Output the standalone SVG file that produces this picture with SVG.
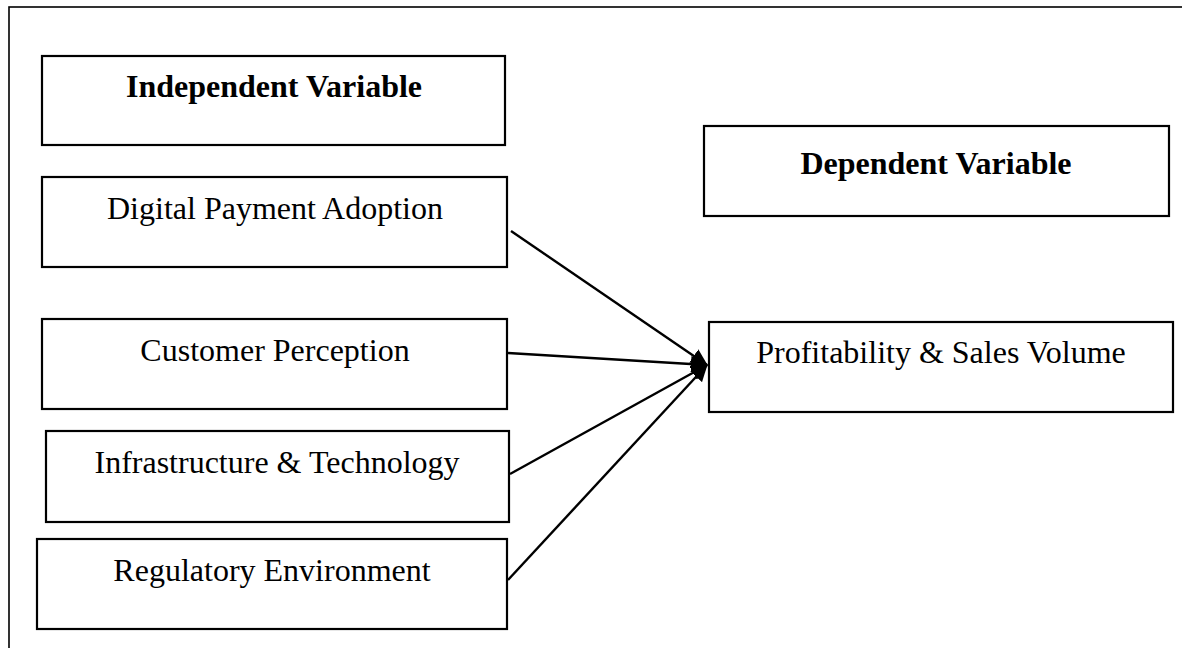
<svg xmlns="http://www.w3.org/2000/svg" width="1182" height="648" viewBox="0 0 1182 648">
  <style>
    .frame { fill: none; stroke: #000; stroke-width: 1.6; }
    .box { fill: #fff; stroke: #000; stroke-width: 2.2; }
    .lbl { font-family: "Liberation Serif", "Times New Roman", serif; font-size: 32px; fill: #000; text-anchor: middle; }
    .hdr { font-weight: bold; }
    .link { stroke: #000; stroke-width: 2.4; fill: none; marker-end: url(#head); }
  </style>
  <defs>
    <marker id="head" markerUnits="userSpaceOnUse" markerWidth="17" markerHeight="16" refX="16" refY="8" orient="auto">
      <path d="M0,0 L17,8 L0,16 Z" fill="#000"/>
    </marker>
  </defs>

  <rect width="1182" height="648" fill="#fff"/>
  <!-- outer frame, runs past the right and bottom edges -->
  <rect class="frame" x="9" y="7" width="1200" height="700"/>

  <g id="connectors">
    <line class="link" x1="511" y1="231" x2="707" y2="365"/>
    <line class="link" x1="508" y1="353" x2="707" y2="365"/>
    <line class="link" x1="510" y1="474" x2="707" y2="365"/>
    <line class="link" x1="508" y1="580" x2="707" y2="365"/>
  </g>

  <g id="independent-header">
    <rect class="box" x="42" y="56" width="463" height="89"/>
    <text class="lbl hdr" x="274" y="97">Independent Variable</text>
  </g>
  <g id="digital-payment">
    <rect class="box" x="42" y="177" width="465" height="90"/>
    <text class="lbl" x="275" y="219">Digital Payment Adoption</text>
  </g>
  <g id="customer-perception">
    <rect class="box" x="42" y="319" width="465" height="90"/>
    <text class="lbl" x="275" y="361">Customer Perception</text>
  </g>
  <g id="infrastructure">
    <rect class="box" x="46" y="431" width="463" height="91"/>
    <text class="lbl" x="277" y="473">Infrastructure &amp; Technology</text>
  </g>
  <g id="regulatory">
    <rect class="box" x="37" y="539" width="470" height="90"/>
    <text class="lbl" x="272" y="581">Regulatory Environment</text>
  </g>
  <g id="dependent-header">
    <rect class="box" x="704" y="126" width="465" height="90"/>
    <text class="lbl hdr" x="936" y="174">Dependent Variable</text>
  </g>
  <g id="profitability">
    <rect class="box" x="709" y="322" width="464" height="90"/>
    <text class="lbl" x="941" y="363">Profitability &amp; Sales Volume</text>
  </g>
</svg>
